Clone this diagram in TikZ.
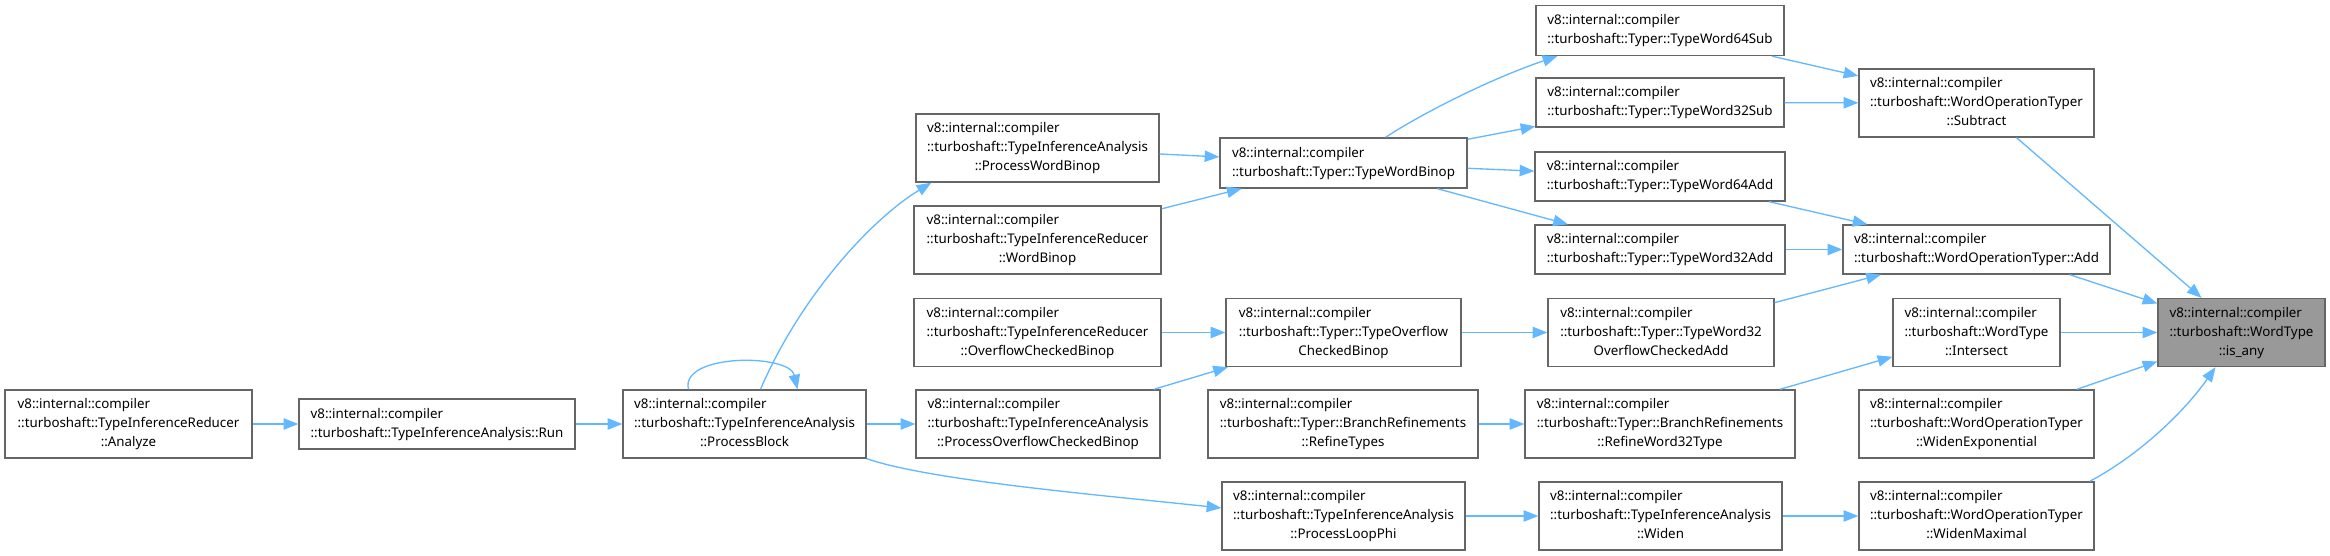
\documentclass[tikz,border=0pt]{standalone}
\usepackage{fontspec}
\setmainfont{Noto Sans}
\usetikzlibrary{arrows.meta,calc}
\definecolor{edgeblue}{HTML}{63B8FF}
\definecolor{boxgray}{HTML}{666666}
\definecolor{fillgray}{HTML}{999999}
\newcommand\thrl[3]{\begin{tabular}{@{}l@{}}#1\\#2\\\multicolumn{1}{@{}c@{}}{#3}\end{tabular}}
\newcommand\twol[2]{\begin{tabular}{@{}l@{}}#1\\\multicolumn{1}{@{}c@{}}{#2}\end{tabular}}
\tikzset{
  fn/.style 2 args={draw=boxgray, line width=1pt, fill=white, inner sep=0pt,
    minimum width=#1*0.75pt, minimum height=#2*0.75pt,
    font=\fontsize{10pt}{14.25pt}\selectfont},
  e/.style={draw=edgeblue, line width=1pt, -{Triangle[length=11pt,width=8.5pt]}}
}
\begin{document}
\begin{tikzpicture}[x=0.75pt,y=-0.75pt]
\useasboundingbox (0,0) rectangle (2330,556);
\node[fn={247}{68}] (an) at (128.5,424) {\thrl{v8::internal::compiler}{::turboshaft::TypeInferenceReducer}{::Analyze}};
\node[fn={276}{50}] (run) at (437,424) {\twol{v8::internal::compiler}{::turboshaft::TypeInferenceAnalysis::Run}};
\node[fn={243}{68}] (pb) at (744.5,424) {\thrl{v8::internal::compiler}{::turboshaft::TypeInferenceAnalysis}{::ProcessBlock}};
\node[fn={243}{68}] (pwb) at (1037.5,148) {\thrl{v8::internal::compiler}{::turboshaft::TypeInferenceAnalysis}{::ProcessWordBinop}};
\node[fn={247}{68}] (wb) at (1037.5,240) {\thrl{v8::internal::compiler}{::turboshaft::TypeInferenceReducer}{::WordBinop}};
\node[fn={247}{68}] (ocb) at (1037.5,332.5) {\thrl{v8::internal::compiler}{::turboshaft::TypeInferenceReducer}{::OverflowCheckedBinop}};
\node[fn={244}{68}] (pocb) at (1038,424) {\thrl{v8::internal::compiler}{::turboshaft::TypeInferenceAnalysis}{::ProcessOverflowCheckedBinop}};
\node[fn={247}{50}] (twb) at (1343.5,163) {\twol{v8::internal::compiler}{::turboshaft::Typer::TypeWordBinop}};
\node[fn={235}{68}] (tocb) at (1343.5,332.5) {\thrl{v8::internal::compiler}{::turboshaft::Typer::TypeOverflow}{CheckedBinop}};
\node[fn={270}{68}] (rt) at (1343,424) {\thrl{v8::internal::compiler}{::turboshaft::Typer::BranchRefinements}{::RefineTypes}};
\node[fn={243}{68}] (plp) at (1343.5,516) {\thrl{v8::internal::compiler}{::turboshaft::TypeInferenceAnalysis}{::ProcessLoopPhi}};
\node[fn={248}{50}] (tw64s) at (1660,30.5) {\twol{v8::internal::compiler}{::turboshaft::Typer::TypeWord64Sub}};
\node[fn={248}{49}] (tw32s) at (1660,102.5) {\twol{v8::internal::compiler}{::turboshaft::Typer::TypeWord32Sub}};
\node[fn={250}{49}] (tw64a) at (1660,176.5) {\twol{v8::internal::compiler}{::turboshaft::Typer::TypeWord64Add}};
\node[fn={250}{49}] (tw32a) at (1660,249.5) {\twol{v8::internal::compiler}{::turboshaft::Typer::TypeWord32Add}};
\node[fn={226}{68}] (tw32oca) at (1661,332.5) {\thrl{v8::internal::compiler}{::turboshaft::Typer::TypeWord32}{OverflowCheckedAdd}};
\node[fn={270}{68}] (rw32) at (1660,424) {\thrl{v8::internal::compiler}{::turboshaft::Typer::BranchRefinements}{::RefineWord32Type}};
\node[fn={243}{68}] (wid) at (1660.5,516) {\thrl{v8::internal::compiler}{::turboshaft::TypeInferenceAnalysis}{::Widen}};
\node[fn={235}{68}] (sub) at (1976.5,103) {\thrl{v8::internal::compiler}{::turboshaft::WordOperationTyper}{::Subtract}};
\node[fn={267}{49}] (add) at (1976.5,249.5) {\twol{v8::internal::compiler}{::turboshaft::WordOperationTyper::Add}};
\node[fn={167}{68}] (int) at (1976.5,332.5) {\thrl{v8::internal::compiler}{::turboshaft::WordType}{::Intersect}};
\node[fn={235}{68}] (we) at (1976.5,424) {\thrl{v8::internal::compiler}{::turboshaft::WordOperationTyper}{::WidenExponential}};
\node[fn={235}{68}] (wm) at (1976.5,516) {\thrl{v8::internal::compiler}{::turboshaft::WordOperationTyper}{::WidenMaximal}};
\node[fn={167}{68}, fill=fillgray] (isany) at (2241.5,332.5) {\thrl{v8::internal::compiler}{::turboshaft::WordType}{::is\_any}};
% edges
\draw[e] (an) -- (run);
\draw[e] (run) -- (pb);
\draw[e] ($(pb.north)+(-56,0)$) .. controls +(-9,-36) and +(-8,-36) .. ($(pb.north)+(53,0)$);
\draw[e] ($(pb.north)+(16,0)$) .. controls +(39,-91) and +(-62,38) .. ($(pwb.south west)+(16,0)$);
\draw[e] (pb) -- (pocb);
\draw[e] (pb.south east) .. controls +(64,22) and +(-121,-13) .. ($(plp.west)+(0,-8)$);
\draw[e] (pwb) -- (twb);
\draw[e] (wb) -- (twb);
\draw[e] (ocb) -- (tocb);
\draw[e] (pocb) -- (tocb);
\draw[e] ($(twb.north)+(42,0)$) .. controls +(35,-23) and +(-68,23) .. ($(tw64s.south west)+(22,0)$);
\draw[e] (twb) -- (tw32s);
\draw[e] (twb) -- (tw64a);
\draw[e] (twb) -- (tw32a);
\draw[e] (tocb) -- (tw32oca);
\draw[e] (rt) -- (rw32);
\draw[e] (plp) -- (wid);
\draw[e] (tw64s) -- (sub);
\draw[e] (tw32s) -- (sub);
\draw[e] (tw64a) -- (add);
\draw[e] (tw32a) -- (add);
\draw[e] (tw32oca) -- (add);
\draw[e] (rw32) -- (int);
\draw[e] (wid) -- (wm);
\draw[e] (sub) -- (isany);
\draw[e] ($(add.south east)+(-41,0)$) -- ($(isany.west)+(0,-29)$);
\draw[e] (int) -- (isany);
\draw[e] (we) -- (isany);
\draw[e] ($(wm.north east)+(-5,0)$) .. controls +(51,-27) and +(-30,43) .. ($(isany.south)+(-26,0)$);
\end{tikzpicture}
\end{document}
